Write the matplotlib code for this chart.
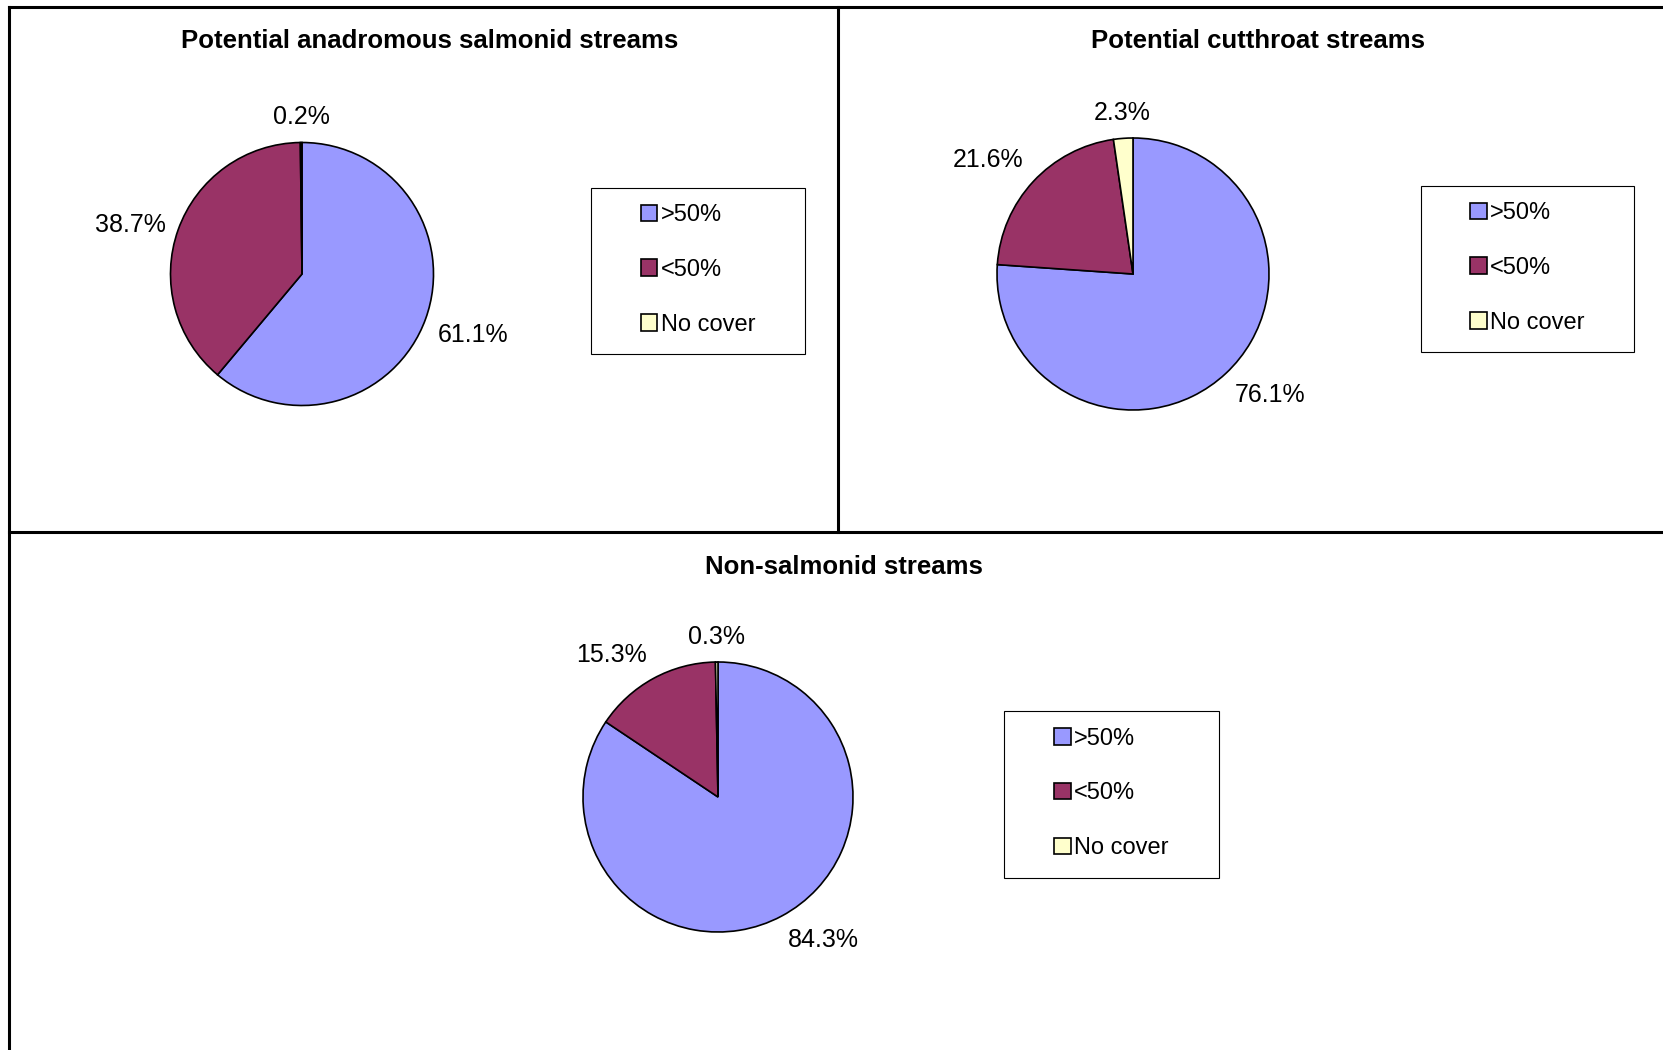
import numpy as np
import matplotlib
matplotlib.use("Agg")
import matplotlib.pyplot as plt
from matplotlib.patches import Patch, Rectangle
from matplotlib.lines import Line2D

plt.rcParams['font.family'] = ['Liberation Sans', 'DejaVu Sans']

# data
categories = [">50%", "<50%", "No cover"]
colors = ["#9999FF", "#993366", "#FFFFCC"]
titles = ["Potential anadromous salmonid streams",
          "Potential cutthroat streams",
          "Non-salmonid streams"]
anadromous = [61.1, 38.7, 0.2]
cutthroat = [76.1, 21.6, 2.3]
non_salmonid = [84.3, 15.3, 0.3]

W, H = 1663, 1050
fig = plt.figure(figsize=(W / 100, H / 100), dpi=100)


def px_axes(cx, cy, r):
    return fig.add_axes([(cx - r) / W, (H - cy - r) / H, 2 * r / W, 2 * r / H])


def fig_line(x0, y0, x1, y1):
    fig.add_artist(Line2D([x0 / W, x1 / W], [1 - y0 / H, 1 - y1 / H],
                          transform=fig.transFigure, color="black", lw=2.2))


def draw_panel(values, title, center, radius, title_pos, legend_box):
    ax = px_axes(center[0], center[1], radius)
    wedges, _ = ax.pie(values, colors=colors, startangle=90, counterclock=False,
                       wedgeprops=dict(edgecolor="black", linewidth=1.2))
    ax.set_xlim(-1, 1)
    ax.set_ylim(-1, 1)
    for w, v in zip(wedges, values):
        mid = np.deg2rad((w.theta1 + w.theta2) / 2)
        c, s = np.cos(mid), np.sin(mid)
        ha = "left" if c > 0.2 else ("right" if c < -0.2 else "center")
        va = "bottom" if s > 0.4 else ("top" if s < -0.2 else "center")
        ax.text(1.1 * c, 1.1 * s, f"{v:.1f}%", ha=ha, va=va, fontsize=18)
    fig.text(title_pos[0] / W, 1 - title_pos[1] / H, title, ha="center", va="center",
             fontsize=18.5, fontweight="bold")
    x0, y0, x1, y1 = legend_box
    fig.add_artist(Rectangle((x0 / W, 1 - y1 / H), (x1 - x0) / W, (y1 - y0) / H,
                             transform=fig.transFigure, fill=False,
                             edgecolor="black", lw=0.8))
    handles = [Patch(facecolor=col, edgecolor="black", linewidth=1.2, label=cat)
               for col, cat in zip(colors, categories)]
    fig.legend(handles=handles, loc="center",
               bbox_to_anchor=((x0 + x1) / 2 / W, 1 - ((y0 + y1) / 2 - 1) / H),
               frameon=False, fontsize=17, handlelength=0.7, handleheight=0.7,
               handletextpad=0.15, labelspacing=1.38)


draw_panel(anadromous, titles[0], (302, 274), 131.5, (430, 41), (591, 188, 805, 354))
draw_panel(cutthroat, titles[1], (1133, 274), 136, (1258, 41), (1421, 186, 1634, 352))
draw_panel(non_salmonid, titles[2], (718, 797), 135, (844, 567), (1004, 711, 1219, 878))

# panel borders
fig_line(9, 7, W, 7)
fig_line(9, 7, 9, H)
fig_line(9, 532, W, 532)
fig_line(838, 7, 838, 532)

fig.savefig("out.png", dpi=100)
